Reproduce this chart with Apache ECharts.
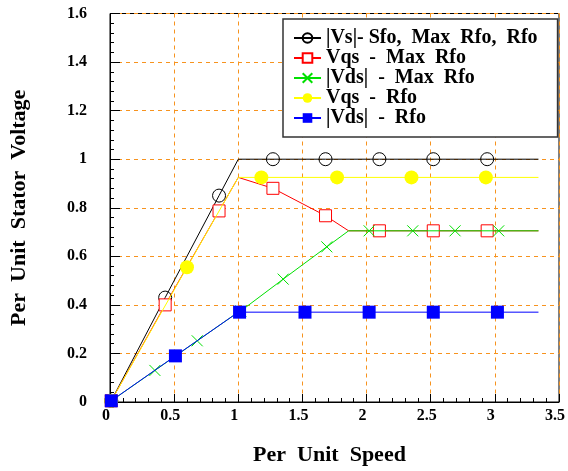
<!DOCTYPE html>
<html><head><meta charset="utf-8">
<script src="https://cdn.jsdelivr.net/npm/echarts@6/dist/echarts.min.js"></script>
<style>html,body{margin:0;padding:0;background:#fff}#c{width:568px;height:471px}</style>
</head><body><div id="c"></div>
<script>
// ---- data ----
const seriesNames = ['|Vs|- Sfo,  Max  Rfo,  Rfo', 'Vqs  -  Max  Rfo', '|Vds|  -  Max  Rfo', 'Vqs  -  Rfo', '|Vds|  -  Rfo'];
const xTicks = [0, 0.5, 1, 1.5, 2, 2.5, 3, 3.5];
const yTicks = [0, 0.2, 0.4, 0.6, 0.8, 1, 1.2, 1.4, 1.6];

const vsPath   = [[0.01,0.005],[1.0,1.0],[3.34,1.0]];
const vsMarks  = [[0.01,0.005],[0.43,0.43],[0.85,0.85],[1.27,1.0],[1.68,1.0],[2.10,1.0],[2.52,1.0],[2.94,1.0]];

const vqsMaxPath  = [[0.01,0.005],[1.0,0.925],[1.27,0.88],[1.68,0.767],[1.86,0.705],[3.34,0.705]];
const vqsMaxMarks = [[0.01,0.005],[0.43,0.40],[0.85,0.787],[1.27,0.88],[1.68,0.767],[2.10,0.705],[2.52,0.705],[2.94,0.705]];

const vdsMaxPath  = [[0.01,0.005],[1.0,0.37],[1.86,0.705],[3.34,0.705]];
const vdsMaxMarks = [[0.01,0.005],[0.35,0.13],[0.68,0.252],[1.02,0.375],[1.35,0.506],[1.69,0.639],[2.02,0.705],[2.36,0.705],[2.69,0.705],[3.03,0.705]];

const vqsPath  = [[0.01,0.005],[1.0,0.925],[3.34,0.925]];
const vqsMarks = [[0.01,0.005],[0.60,0.555],[1.18,0.925],[1.77,0.925],[2.35,0.925],[2.93,0.925]];

const vdsPath  = [[0.01,0.005],[1.0,0.37],[3.34,0.37]];
const vdsMarks = [[0.01,0.005],[0.51,0.19],[1.01,0.37],[1.52,0.37],[2.02,0.37],[2.52,0.37],[3.02,0.37]];

// merge line breakpoints and marker points; only marker points get a symbol
function merge(path, marks) {
  const map = new Map();
  path.forEach(p => map.set(p[0], {value: p, symbol: 'none'}));
  marks.forEach(p => map.set(p[0], {value: p}));
  return Array.from(map.values()).sort((a, b) => a.value[0] - b.value[0]);
}

const FONT = 'Liberation Serif';
const chart = echarts.init(document.getElementById('c'), null, {renderer: 'canvas'});

const styles = [
  {color: '#000000', symbol: 'circle', size: 13, item: {color: 'rgba(255,255,255,0)', borderColor: '#000', borderWidth: 1}},
  {color: '#ff0000', symbol: 'rect', size: 12, item: {color: '#ffffff', borderColor: '#ff0000', borderWidth: 1}},
  {color: '#00e000', symbol: 'path://M0,0L10,10M10,0L0,10', size: 11, item: {color: 'rgba(0,0,0,0)', borderColor: '#00e000', borderWidth: 1}},
  {color: '#ffff00', symbol: 'circle', size: 14, item: {color: '#ffff00', borderWidth: 0}},
  {color: '#0000ff', symbol: 'rect', size: 13, item: {color: '#0000ff', borderWidth: 0}}
];
const datas = [merge(vsPath, vsMarks), merge(vqsMaxPath, vqsMaxMarks), merge(vdsMaxPath, vdsMaxMarks), merge(vqsPath, vqsMarks), merge(vdsPath, vdsMarks)];

const series = datas.map((d, i) => ({
  name: seriesNames[i],
  type: 'line',
  data: d,
  symbol: styles[i].symbol,
  symbolSize: styles[i].size,
  showAllSymbol: true,
  animation: false,
  clip: false,
  lineStyle: {color: styles[i].color, width: 1},
  itemStyle: styles[i].item,
  z: 3 + i
}));

chart.setOption({
  animation: false,
  backgroundColor: '#ffffff',
  grid: {left: 110, right: 6.5, top: 13.5, bottom: 67.7, show: true, borderColor: '#000', borderWidth: 1, backgroundColor: 'transparent'},
  legend: {
    left: 283, top: 19,
    orient: 'vertical',
    data: seriesNames,
    backgroundColor: '#ffffff',
    borderColor: '#333',
    borderWidth: 1.5,
    padding: [9, 20, 9, 10],
    itemWidth: 27, itemHeight: 12, itemGap: 0,
    textStyle: {fontFamily: FONT, fontWeight: 'bold', fontSize: 20, lineHeight: 19, color: '#000'},
    z: 20
  },
  xAxis: {
    type: 'value', min: 0, max: 3.5, interval: 0.5,
    name: 'Per  Unit  Speed', nameLocation: 'middle', nameGap: 42,
    nameTextStyle: {fontFamily: FONT, fontWeight: 'bold', fontSize: 22, color: '#000', padding: [0, 10, 0, 0]},
    axisLine: {show: true, onZero: false, lineStyle: {color: '#000', width: 1}},
    axisTick: {show: true, inside: true, length: 8, lineStyle: {color: '#000'}},
    minorTick: {show: true, splitNumber: 5, length: 4, lineStyle: {color: '#000'}},
    axisLabel: {fontFamily: FONT, fontWeight: 'bold', fontSize: 16, color: '#000', margin: 6, padding: [0, 8, 0, 0],
      formatter: v => xTicks.includes(v) ? String(v) : ''},
    splitLine: {show: true, lineStyle: {color: '#f7931e', type: [4, 4], width: 1}}
  },
  yAxis: {
    type: 'value', min: 0, max: 1.6, interval: 0.2,
    name: 'Per  Unit  Stator  Voltage', nameLocation: 'middle', nameGap: 80,
    nameTextStyle: {fontFamily: FONT, fontWeight: 'bold', fontSize: 22, color: '#000'},
    axisLine: {show: true, onZero: false, lineStyle: {color: '#000', width: 1}},
    axisTick: {show: true, inside: true, length: 10, lineStyle: {color: '#000'}},
    minorTick: {show: true, splitNumber: 5, length: 4, lineStyle: {color: '#000'}},
    axisLabel: {fontFamily: FONT, fontWeight: 'bold', fontSize: 16, color: '#000', margin: 23,
      formatter: v => { const t = yTicks.find(y => Math.abs(y - v) < 1e-9); return t === undefined ? '' : String(t); }},
    splitLine: {show: true, lineStyle: {color: '#f7931e', type: [4, 4], width: 1}}
  },
  series: series
});
</script></body></html>
